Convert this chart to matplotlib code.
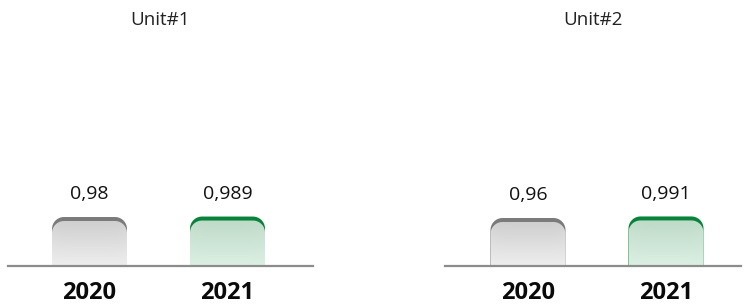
import numpy as np
import matplotlib.pyplot as plt
from matplotlib.path import Path
from matplotlib.patches import PathPatch
from matplotlib.colors import LinearSegmentedColormap

plt.rcParams['font.family'] = ['Open Sans', 'DejaVu Sans']

units = ['Unit#1', 'Unit#2']
years = ['2020', '2021']
values = [[0.98, 0.989], [0.96, 0.991]]
labels = [['0,98', '0,989'], ['0,96', '0,991']]

cap_colors = ['#7b7b7b', '#07843a']
body_tops = ['#cfcfcf', '#bfdac8']
body_bottoms = ['#eeeeee', '#dbf0e3']

W, H = 744, 307
fig = plt.figure(figsize=(W / 100, H / 100), dpi=100)

# axes boxes in pixels: left, right, and x position of the first bar centre
boxes = [(8, 313, 89.5), (445, 741, 528)]
base_px, top_px = 266, 40
spacing, bar_px, rad_px, cap_px = 138, 75, 12, 4
px_per_unit = 50


def rounded_top(x0, y0, w, h, rx, ry, n=12):
    verts = [(x0, y0), (x0, y0 + h - ry)]
    for t in np.linspace(np.pi, np.pi / 2, n):
        verts.append((x0 + rx + rx * np.cos(t), y0 + h - ry + ry * np.sin(t)))
    for t in np.linspace(np.pi / 2, 0, n):
        verts.append((x0 + w - rx + rx * np.cos(t), y0 + h - ry + ry * np.sin(t)))
    verts.append((x0 + w, y0))
    verts.append((x0, y0))
    codes = [Path.MOVETO] + [Path.LINETO] * (len(verts) - 2) + [Path.CLOSEPOLY]
    return Path(verts, codes)


for k, unit in enumerate(units):
    left, right, c0 = boxes[k]
    ax = fig.add_axes([left / W, 1 - base_px / H, (right - left) / W, (base_px - top_px) / H])
    xl = -(c0 - left) / spacing
    ax.set_xlim(xl, xl + (right - left) / spacing)
    ax.set_ylim(0, (base_px - top_px) / px_per_unit)

    x = np.arange(len(years))
    bars = ax.bar(x, values[k], width=bar_px / spacing, color='none', edgecolor='none')

    rx = rad_px / spacing
    ry = rad_px / px_per_unit
    dy = cap_px / px_per_unit
    for i, rect in enumerate(bars):
        x0, w, h = rect.get_x(), rect.get_width(), rect.get_height()
        ax.add_patch(PathPatch(rounded_top(x0, 0, w, h, rx, ry), facecolor=cap_colors[i],
                               edgecolor='none', zorder=2))
        body = PathPatch(rounded_top(x0, 0, w, h - dy, rx, ry), facecolor='none',
                         edgecolor='none', zorder=3)
        ax.add_patch(body)
        cmap = LinearSegmentedColormap.from_list('g', [body_bottoms[i], body_tops[i]])
        grad = np.linspace(0, 1, 64).reshape(-1, 1)
        # slight darkening towards the sides
        side = 1 - 0.12 * np.abs(np.linspace(-1, 1, 32)) ** 6
        img = ax.imshow(grad * side, cmap=cmap, origin='lower', aspect='auto',
                        extent=[x0, x0 + w, 0, h - dy], vmin=0, vmax=1, zorder=3,
                        interpolation='bilinear')
        img.set_clip_path(body)
        ax.annotate(labels[k][i], (x[i], h), xytext=(0, 10), textcoords='offset points',
                    ha='center', va='bottom', fontsize=14, color='#111111')

    ax.set_xticks(x)
    ax.set_xticklabels(years, fontsize=17, fontweight='bold', color='#0a0a0a')
    ax.tick_params(axis='x', length=0, pad=11)
    ax.set_yticks([])
    for s in ['top', 'right', 'left']:
        ax.spines[s].set_visible(False)
    ax.spines['bottom'].set_color('#8c8c8c')
    ax.spines['bottom'].set_linewidth(1.6)
    ax.spines['bottom'].set_zorder(5)
    ax.set_title(unit, fontsize=13.5, color='#222222', pad=11)

fig.savefig('out.png', dpi=100)
